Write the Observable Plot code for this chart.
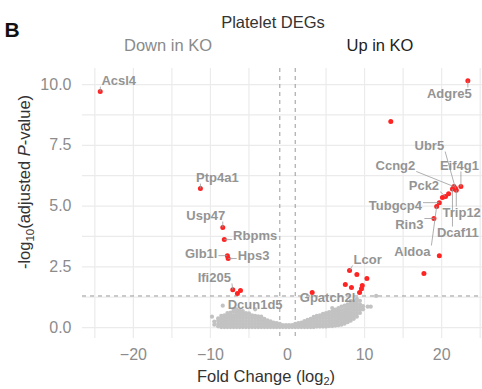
<!DOCTYPE html>
<html>
<head>
<meta charset="utf-8">
<script src="https://cdn.jsdelivr.net/npm/d3@7"></script>
<script src="https://cdn.jsdelivr.net/npm/@observablehq/plot@0.6"></script>
<style>
  html, body { margin: 0; padding: 0; background: #fff; }
  svg { display: block; }
</style>
</head>
<body>
<div id="chart"></div>
<script>
// ---------- data ----------
const xTicks = [-20, -10, 0, 10, 20];
const yTicks = [0, 2.5, 5, 7.5, 10];
const xGridLines = [-25, -20, -15, -10, -5, 5, 10, 15, 20, 25];
const yGridLines = [0, 1.25, 2.5, 3.75, 5, 6.25, 7.5, 8.75, 10];
const fcCutoffs = [-1, 1];
const pCutoff = 1.3;

// significant genes (red)
const sigGene = ["Acsl4","Adgre5","","Ptp4a1","Usp47","Rbpms","Glb1l","Hps3","Ifi205","","",
  "Gpatch2l","Lcor","","","","","","","","","","Rin3","Aldoa","Tubgcp4","","Pck2","","Ccng2","Ubr5","Trip12","Dcaf11","Eif4g1"];
const sigFC = [-24.3, 23.4, 13.4, -11.3, -8.4, -8.2, -7.8, -7.7, -7.1, -6.5, -6.1,
  3.2, 8.05, 9.0, 10.3, 7.5, 8.3, 9.7, 9.6, 9.35, 17.7, 19.7, 19.0, 19.35, 19.7, 20.1, 20.5, 20.9, 21.6, 21.8, 21.9, 21.4, 22.5];
const sigP = [9.71, 10.16, 8.48, 5.72, 4.12, 3.62, 2.96, 2.84, 1.56, 1.40, 1.52,
  1.44, 2.35, 2.18, 2.02, 1.77, 1.65, 1.73, 1.60, 1.44, 2.22, 2.96, 4.49, 4.98, 5.14, 5.35, 5.39, 5.51, 5.80, 5.72, 5.65, 5.70, 5.80];

// labelled non-significant gene (grey)
const nsGene = ["Dcun1d5"];
const nsFC = [-8.4];
const nsP = [0.9];

// label anchors (data units)
const labelGene = ["Acsl4","Adgre5","Ptp4a1","Usp47","Rbpms","Glb1l","Hps3","Ifi205","Dcun1d5","Gpatch2l","Lcor",
  "Aldoa","Rin3","Tubgcp4","Pck2","Ccng2","Ubr5","Eif4g1","Trip12","Dcaf11"];
const labelFC = [-21.9, 21.0, -9.1, -10.6, -4.2, -11.2, -4.4, -9.5, -4.2, 5.2, 10.4,
  16.2, 15.8, 14.0, 17.7, 14.0, 18.4, 22.3, 22.6, 22.1];
const labelP = [10.16, 9.63, 6.17, 4.61, 3.79, 3.05, 2.96, 2.06, 0.95, 1.23, 2.8,
  3.13, 4.24, 5.02, 5.84, 6.67, 7.49, 6.67, 4.73, 3.91];

// non-significant cloud (grey): fold change column -> -log10 p values
const grayFC = [-9.8, -9.5, -9.0, -8.6, -8.2, -7.8, -7.4, -7.0, -6.6, -6.2, -5.8, -5.4, -5.0, -4.6, -4.2, -3.8, -3.4, -3.0, -2.6, -2.2, -1.8, -1.4, -1.0, -0.6, -0.2,
  0.2, 0.6, 1.0, 1.4, 1.8, 2.2, 2.6, 3.0, 3.4, 3.8, 4.2, 4.6, 5.0, 5.4, 5.8, 6.2, 6.6, 7.0, 7.4, 7.8, 8.2, 8.6, 9.0, 9.4, 9.8, 10.4, 10.8, 11.5];
const grayP = [
  [0.45],
  [0.12, 0.25],
  [0.05, 0.15, 0.28, 0.38],
  [0.02, 0.12, 0.24, 0.36, 0.48],
  [0.02, 0.14, 0.26, 0.38, 0.5],
  [0.02, 0.14, 0.26, 0.38, 0.5, 0.6],
  [0.02, 0.14, 0.26, 0.38, 0.5, 0.62],
  [0.02, 0.14, 0.26, 0.38, 0.5, 0.64, 0.72],
  [0.02, 0.14, 0.26, 0.38, 0.5, 0.62, 0.75],
  [0.02, 0.14, 0.26, 0.38, 0.5, 0.62, 0.7],
  [0.02, 0.14, 0.26, 0.38, 0.5, 0.6, 0.68],
  [0.02, 0.14, 0.26, 0.38, 0.5, 0.6],
  [0.02, 0.14, 0.26, 0.38, 0.5, 0.58],
  [0.02, 0.14, 0.26, 0.38, 0.5],
  [0.02, 0.14, 0.26, 0.38, 0.48, 0.75],
  [0.02, 0.14, 0.26, 0.38, 0.46],
  [0.02, 0.14, 0.26, 0.38, 0.45],
  [0.02, 0.14, 0.26, 0.36],
  [0.02, 0.12, 0.22, 0.3],
  [0.02, 0.12, 0.22, 0.26],
  [0.02, 0.12, 0.2],
  [0.02, 0.1, 0.18],
  [0.02, 0.1, 0.15],
  [0.02, 0.1],
  [0.02, 0.1],
  [0.02, 0.1],
  [0.02, 0.1],
  [0.02, 0.1, 0.15],
  [0.02, 0.1, 0.18],
  [0.02, 0.12, 0.2],
  [0.02, 0.12, 0.22, 0.27],
  [0.02, 0.12, 0.22, 0.32],
  [0.02, 0.14, 0.26, 0.36],
  [0.02, 0.14, 0.26, 0.38, 0.44],
  [0.04, 0.14, 0.26, 0.38, 0.48],
  [0.04, 0.14, 0.26, 0.38, 0.5],
  [0.04, 0.14, 0.26, 0.38, 0.5, 0.56],
  [0.04, 0.14, 0.26, 0.38, 0.5, 0.6],
  [0.06, 0.16, 0.28, 0.4, 0.52, 0.64],
  [0.06, 0.18, 0.3, 0.42, 0.54, 0.66, 0.8],
  [0.08, 0.2, 0.32, 0.44, 0.56, 0.68, 0.74],
  [0.1, 0.22, 0.34, 0.46, 0.58, 0.7, 0.8],
  [0.12, 0.24, 0.36, 0.48, 0.6, 0.72, 0.86],
  [0.16, 0.28, 0.4, 0.52, 0.64, 0.76, 0.9],
  [0.22, 0.34, 0.46, 0.58, 0.7, 0.82, 0.96],
  [0.28, 0.4, 0.52, 0.64, 0.76, 0.88, 1.0, 1.1],
  [0.36, 0.48, 0.6, 0.72, 0.84, 0.96, 1.08],
  [0.45, 0.57, 0.7, 0.82, 0.94, 1.06, 1.18],
  [0.6, 0.72, 0.84, 0.96, 1.1],
  [0.75, 0.88],
  [0.86],
  [0.86],
  [1.3]
];

// ---------- layout ----------
const W = 482, H = 389;
const mL = 82, mR = 0, mT = 68, mB = 51;
const xDomain = [-26.6, 25.3];
const yDomain = [-0.45, 10.66];
const FONT = "'Liberation Sans', Arial, sans-serif";

const gray = [];
grayFC.forEach((x, i) => grayP[i].forEach(y => gray.push({x, y})));
nsFC.forEach((x, i) => gray.push({x, y: nsP[i]}));
const sig = sigFC.map((x, i) => ({x, y: sigP[i], gene: sigGene[i]}));

// label leader lines (like ggrepel segments)
const kx = (W - mL - mR) / (xDomain[1] - xDomain[0]);
const ky = (H - mT - mB) / (yDomain[1] - yDomain[0]);
const ctx = document.createElement("canvas").getContext("2d");
ctx.font = `bold 13px ${FONT}`;
const pointOf = g => {
  const i = sigGene.indexOf(g);
  if (i >= 0) return [sigFC[i], sigP[i]];
  const j = nsGene.indexOf(g);
  return [nsFC[j], nsP[j]];
};
const labels = labelGene.map((g, i) => {
  const [px, py] = pointOf(g);
  const lx = labelFC[i], ly = labelP[i];
  const hw = ctx.measureText(g).width / 2 + 1, hh = 6;
  const dxp = (px - lx) * kx, dyp = -(py - ly) * ky;
  const ex = Math.max(-hw, Math.min(hw, dxp)), ey = Math.max(-hh, Math.min(hh, dyp));
  const dist = Math.hypot(dxp - ex, dyp - ey);
  return {gene: g, px, py, lx, ly, ex: lx + ex / kx, ey: ly - ey / ky, show: dist > 4};
});

const chart = Plot.plot({
  width: W, height: H,
  marginLeft: mL, marginRight: mR, marginTop: mT, marginBottom: mB,
  style: {fontFamily: FONT, fontSize: "16px", color: "#8c8c8c", background: "#fff"},
  x: {domain: xDomain, ticks: xTicks, tickSize: 0, tickPadding: 10, label: null},
  y: {domain: yDomain, ticks: yTicks, tickSize: 0, tickPadding: 11, label: null, tickFormat: d3.format(".1f")},
  marks: [
    Plot.ruleX(xGridLines, {stroke: "#ebebeb", strokeWidth: 1.2}),
    Plot.ruleY(yGridLines, {stroke: "#ebebeb", strokeWidth: 1.2}),
    Plot.ruleX(fcCutoffs, {stroke: "#9a9a9a", strokeWidth: 1, strokeDasharray: "4,4"}),
    Plot.ruleY([pCutoff], {stroke: "#9a9a9a", strokeWidth: 1, strokeDasharray: "4,4"}),
    Plot.dot(gray, {x: "x", y: "y", r: 2.1, fill: "#c2c2c2", stroke: "none"}),
    Plot.dot(sig, {x: "x", y: "y", r: 2.5, fill: "#ff2424", stroke: "none"}),
    Plot.link(labels.filter(d => d.show), {x1: "px", y1: "py", x2: "ex", y2: "ey", stroke: "#9a9a9a", strokeWidth: 0.8}),
    Plot.text(labels, {x: "lx", y: "ly", text: "gene", fontWeight: "bold", fontSize: 13, fill: "#949494"})
  ]
});

document.getElementById("chart").appendChild(chart);
const svg = d3.select(chart);

svg.append("text").attr("x", 12).attr("y", 37).attr("font-size", 21).attr("font-weight", "bold")
  .attr("fill", "#111").attr("font-family", FONT).text("B");
svg.append("text").attr("x", 273).attr("y", 28).attr("text-anchor", "middle").attr("font-size", 16.5)
  .attr("fill", "#333").attr("font-family", FONT).text("Platelet DEGs");
svg.append("text").attr("x", 168).attr("y", 51).attr("text-anchor", "middle").attr("font-size", 16.5)
  .attr("fill", "#8a8a8a").attr("font-family", FONT).text("Down in KO");
svg.append("text").attr("x", 380).attr("y", 51).attr("text-anchor", "middle").attr("font-size", 16.5)
  .attr("fill", "#222").attr("font-family", FONT).text("Up in KO");

// x axis title
const xl = svg.append("text").attr("x", 266).attr("y", 382).attr("text-anchor", "middle")
  .attr("font-size", 16.5).attr("fill", "#333").attr("font-family", FONT);
xl.append("tspan").text("Fold Change (log");
xl.append("tspan").attr("dy", 3).attr("font-size", 11).text("2");
xl.append("tspan").attr("dy", -3).text(")");

// y axis title
const yl = svg.append("text").attr("transform", "translate(30,182) rotate(-90)").attr("text-anchor", "middle")
  .attr("font-size", 16.5).attr("fill", "#333").attr("font-family", FONT);
yl.append("tspan").text("-log");
yl.append("tspan").attr("dy", 4).attr("font-size", 11.5).text("10");
yl.append("tspan").attr("dy", -4).text("(adjusted ");
yl.append("tspan").attr("font-style", "italic").text("P");
yl.append("tspan").text("-value)");
</script>
</body>
</html>
